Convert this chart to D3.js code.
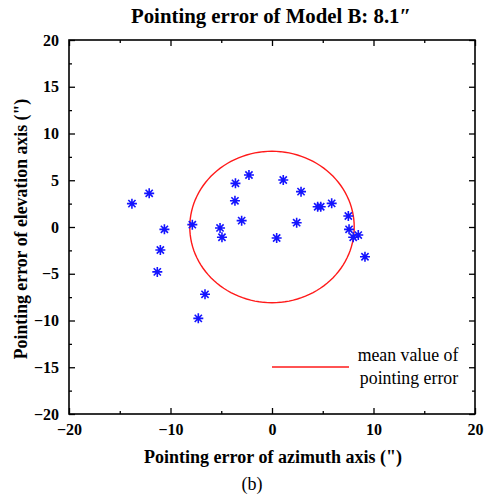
<!DOCTYPE html>
<html>
<head>
<meta charset="utf-8">
<script src="https://cdn.jsdelivr.net/npm/d3@7"></script>
<style>
  html, body { margin: 0; padding: 0; background: #fff; }
</style>
</head>
<body>
<svg id="chart" width="491" height="498"></svg>
<script>
// Pointing error samples (arcsec): azimuth (x) and elevation (y)
const azimuthErr = [-13.8, -12.1, -10.6, -11.0, -11.3, -6.6, -7.26,
  -7.85, -5.12, -4.93, -3.6, -2.27, -3.65, -2.99, 0.46, 1.11, 2.86, 2.43,
  4.5, 4.8, 5.88, 7.52, 7.59, 8.0, 8.5, 9.16];
const elevationErr = [2.5, 3.6, -0.25, -2.46, -4.8, -7.2, -9.77,
  0.25, -0.1, -1.1, 4.67, 5.56, 2.8, 0.68, -1.18, 5.03, 3.78, 0.46,
  2.17, 2.17, 2.53, 1.18, -0.25, -1.1, -0.86, -3.18];
const meanError = 8.1;
const xTicks = [-20, -10, 0, 10, 20];
const xMinorTicks = [-15, -5, 5, 15];
const yTicks = [-20, -15, -10, -5, 0, 5, 10, 15, 20];
const yMinorTicks = [-17.5, -12.5, -7.5, -2.5, 2.5, 7.5, 12.5, 17.5];

const FONT = "Liberation Serif";
const svg = d3.select("#chart");
const plotL = 69, plotR = 475, plotT = 40, plotB = 414;
const x = d3.scaleLinear().domain([-20, 20]).range([plotL, plotR]);
const y = d3.scaleLinear().domain([-20, 20]).range([plotB, plotT]);

const fmt = d => d < 0 ? "\u2212" + Math.abs(d) : String(d);

// Axes with inward ticks on all four sides
function styleAxis(g) {
  g.attr("font-family", FONT);
  g.select(".domain").remove();
  g.selectAll("line").attr("stroke", "#000").attr("stroke-width", 1.3);
  g.selectAll("text").attr("font-size", 16).attr("font-weight", "bold").attr("fill", "#000")
    .attr("font-family", FONT);
}
svg.append("g").attr("transform", `translate(0,${plotB})`)
  .call(d3.axisBottom(x).tickValues(xTicks).tickSizeInner(-6).tickSizeOuter(0).tickPadding(10).tickFormat(fmt))
  .call(styleAxis);
svg.append("g").attr("transform", `translate(0,${plotB})`)
  .call(d3.axisBottom(x).tickValues(xMinorTicks).tickSizeInner(-3).tickSizeOuter(0).tickFormat(""))
  .call(styleAxis);
svg.append("g").attr("transform", `translate(0,${plotT})`)
  .call(d3.axisTop(x).tickValues(xTicks).tickSizeInner(-6).tickSizeOuter(0).tickFormat(""))
  .call(styleAxis);
svg.append("g").attr("transform", `translate(0,${plotT})`)
  .call(d3.axisTop(x).tickValues(xMinorTicks).tickSizeInner(-3).tickSizeOuter(0).tickFormat(""))
  .call(styleAxis);
svg.append("g").attr("transform", `translate(${plotL},0)`)
  .call(d3.axisLeft(y).tickValues(yTicks).tickSizeInner(-6).tickSizeOuter(0).tickPadding(10).tickFormat(fmt))
  .call(styleAxis);
svg.append("g").attr("transform", `translate(${plotL},0)`)
  .call(d3.axisLeft(y).tickValues(yMinorTicks).tickSizeInner(-3).tickSizeOuter(0).tickFormat(""))
  .call(styleAxis);
svg.append("g").attr("transform", `translate(${plotR},0)`)
  .call(d3.axisRight(y).tickValues(yTicks).tickSizeInner(-6).tickSizeOuter(0).tickFormat(""))
  .call(styleAxis);
svg.append("g").attr("transform", `translate(${plotR},0)`)
  .call(d3.axisRight(y).tickValues(yMinorTicks).tickSizeInner(-3).tickSizeOuter(0).tickFormat(""))
  .call(styleAxis);

// Plot frame
svg.append("rect").attr("x", plotL).attr("y", plotT)
  .attr("width", plotR - plotL).attr("height", plotB - plotT)
  .attr("fill", "none").attr("stroke", "#000").attr("stroke-width", 1.6);

// Mean pointing error circle
const circlePts = d3.range(0, 361, 3).map(a => {
  const t = a * Math.PI / 180;
  return [meanError * Math.cos(t), meanError * Math.sin(t)];
});
svg.append("path")
  .datum(circlePts)
  .attr("d", d3.line().x(d => x(d[0])).y(d => y(d[1])))
  .attr("fill", "none").attr("stroke", "#ff1a1a").attr("stroke-width", 1.4);

// Asterisk markers
const r = 5, rd = 3.6;
const star = `M${-r},0L${r},0M0,${-r}L0,${r}M${-rd},${-rd}L${rd},${rd}M${-rd},${rd}L${rd},${-rd}`;
svg.append("g").selectAll("path")
  .data(d3.zip(azimuthErr, elevationErr))
  .join("path")
  .attr("transform", d => `translate(${x(d[0])},${y(d[1])})`)
  .attr("d", star)
  .attr("stroke", "#1414ff").attr("stroke-width", 1.6).attr("fill", "none");

// Legend
svg.append("line").attr("x1", 272).attr("x2", 349).attr("y1", 367).attr("y2", 367)
  .attr("stroke", "#ff1a1a").attr("stroke-width", 1.4);
const legend = svg.append("text").attr("font-family", FONT).attr("font-size", 17.8)
  .attr("text-anchor", "middle").attr("fill", "#000");
legend.append("tspan").attr("x", 408).attr("y", 361).text("mean value of");
legend.append("tspan").attr("x", 409).attr("y", 384).text("pointing error");

// Titles
svg.append("text").attr("x", 271).attr("y", 23).attr("text-anchor", "middle").attr("font-family", FONT)
  .attr("font-size", 20.5).attr("font-weight", "bold")
  .attr("textLength", 280).attr("lengthAdjust", "spacingAndGlyphs")
  .text("Pointing error of Model B: 8.1\u2033");
svg.append("text").attr("x", 273).attr("y", 463).attr("text-anchor", "middle").attr("font-family", FONT)
  .attr("font-size", 18).attr("font-weight", "bold").text("Pointing error of azimuth axis (\")");
svg.append("text").attr("transform", `translate(27,${(plotT + plotB) / 2 + 2}) rotate(-90)`)
  .attr("text-anchor", "middle").attr("font-size", 17.8).attr("font-weight", "bold").attr("font-family", FONT)
  .text("Pointing error of elevation axis (\")");
svg.append("text").attr("x", 252).attr("y", 490).attr("text-anchor", "middle").attr("font-family", FONT)
  .attr("font-size", 18).text("(b)");
</script>
</body>
</html>
